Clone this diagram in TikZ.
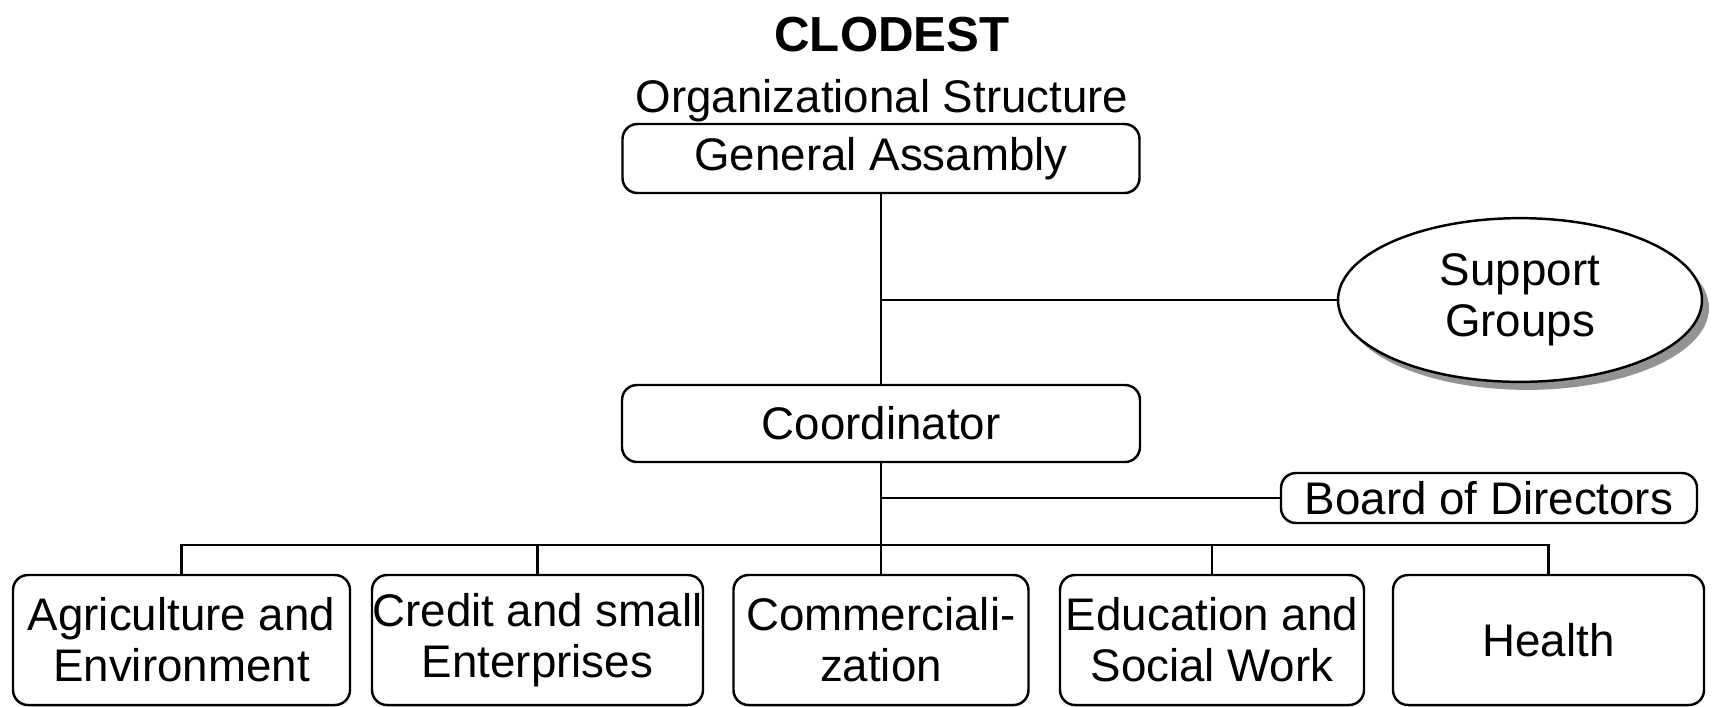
\documentclass[tikz,border=0pt]{standalone}
\usepackage{fontspec}
\setmainfont{Liberation Sans}
\usepackage{tikz}
\usetikzlibrary{calc}
\usetikzlibrary{shapes}
\usetikzlibrary{shapes.geometric}
\usetikzlibrary{shadows}
\tikzstyle{unit} = [rectangle, rounded corners = 0.15cm, draw = black, line width = 0.7pt, align = center, inner sep = 0pt, font = \fontsize{13}{14.5}\selectfont]
\tikzstyle{dept} = [unit, minimum height = 1.30cm]
\tikzstyle{link} = [-, draw = black, line width = 0.7pt]

\begin{document}
\begin{tikzpicture}
 \useasboundingbox (0, 0) rectangle (17.17, -7.06);
 \node [font = \fontsize{14}{16}\selectfont\bfseries] (T) at (8.92, -0.35) {CLODEST};
 \node [font = \fontsize{13}{15}\selectfont, anchor = base, inner sep = 0pt] (S) at (8.82, -1.12) {Organizational Structure};
 \node [unit, minimum width = 5.17cm, minimum height = 0.69cm] (GA) at (8.81, -1.585) {General Assambly};
 \node [unit, minimum width = 5.18cm, minimum height = 0.77cm] (CO) at (8.81, -4.235) {Coordinator};
 \node [ellipse, draw = black, fill = white, line width = 0.7pt, minimum width = 3.64cm, minimum height = 1.50cm, align = center, font = \fontsize{13}{14.5}\selectfont, drop shadow = {shadow xshift = 0.07cm, shadow yshift = -0.08cm, fill = gray, opacity = 0.85}] (SG) at (15.20, -3.00) {Support\\Groups};
 \node [unit, minimum width = 4.16cm, minimum height = 0.50cm] (BD) at (14.89, -4.98) {Board of Directors};
 \node [dept, minimum width = 3.37cm] (AE) at (1.815, -6.40) {Agriculture and\\Environment};
 \node [dept, minimum width = 3.31cm] (CE) at (5.375, -6.40) {Credit and small\\Enterprises};
 \node [dept, minimum width = 2.95cm] (CM) at (8.81, -6.40) {Commerciali-\\zation};
 \node [dept, minimum width = 3.04cm] (ED) at (12.12, -6.40) {Education and\\Social Work};
 \node [dept, minimum width = 3.11cm] (HE) at (15.485, -6.40) {Health};
 \coordinate (bus) at (8.81, -5.45);
 \draw [link] (GA.south) to (CO.north);
 \draw [link] (SG.west) to (SG.west -| GA.south);
 \draw [link] (CO.south) to (CM.north);
 \draw [link] (BD.west) to (BD.west -| CO.south);
 \draw [link] (AE.north) |- (bus) -| (HE.north);
 \draw [link] (CE.north) to (CE.north |- bus);
 \draw [link] (ED.north) to (ED.north |- bus);
\end{tikzpicture}
\end{document}
